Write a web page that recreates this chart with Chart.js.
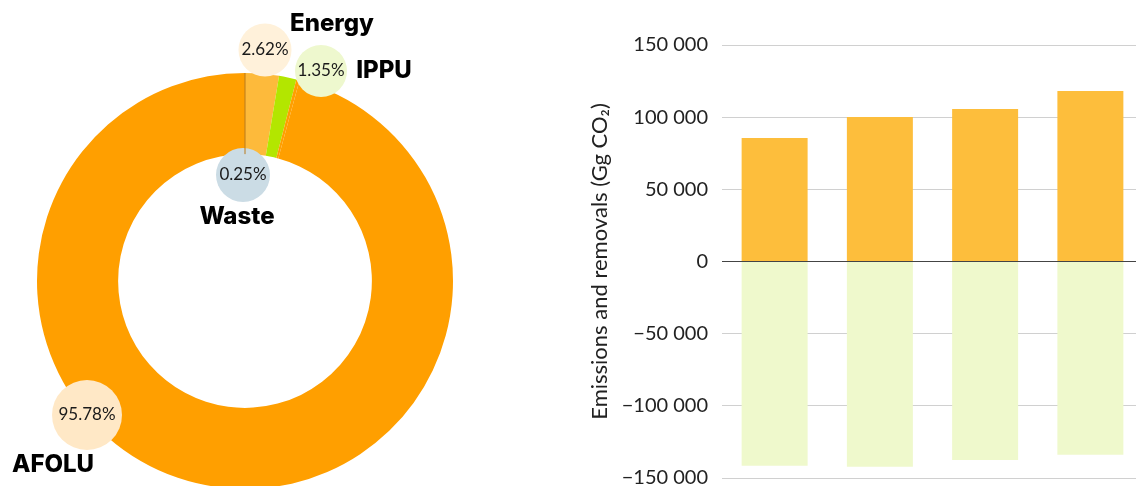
<!DOCTYPE html>
<html>
<head>
<meta charset="utf-8">
<script src="https://cdn.jsdelivr.net/npm/chart.js@4/dist/chart.umd.min.js"></script>
<style>
  html, body { margin: 0; padding: 0; background: #fff; overflow: hidden; width: 1136px; height: 486px; }
  #pieBox { position: absolute; left: 0; top: 0; width: 490px; height: 562px; }
  #barBox { position: absolute; left: 560px; top: 0; width: 590px; height: 520px; }
</style>
</head>
<body>
<div id="pieBox"><canvas id="pieChart"></canvas></div>
<div id="barBox"><canvas id="barChart"></canvas></div>
<script>
// doughnut: sector shares (%)
let sectors = ['Energy', 'IPPU', 'Waste', 'AFOLU'];
let shares = [2.62, 1.35, 0.25, 95.78];
let sliceColors = ['#fdba3b', '#b3e600', '#ff9f00', '#ff9f00'];
let bubbleColors = ['#fff1da', '#eef8ce', '#cbdce5', '#ffe8c6'];

// bar chart: emissions / removals (Gg CO2)
let periods = ['1', '2', '3', '4'];
let emissions = [85600, 100100, 105700, 118100];
let removals = [-141500, -142200, -137500, -133900];
let yTicks = [-150000, -100000, -50000, 0, 50000, 100000, 150000];

// where each bubble and name sit, relative to doughnut centre
let bubbleLayout = [
    { bx: 20, by: -231, r: 26.5, lx: 87, ly: -257 },
    { bx: 76, by: -210, r: 26, lx: 139, ly: -210 },
    { bx: -2, by: -106, r: 27, lx: -8, ly: -64 },
    { bx: -158, by: 134, r: 35, lx: -192, ly: 184 }
];

const bubbles = {
    id: 'bubbles',
    afterDatasetsDraw(chart) {
        let c = chart.ctx;
        let arc = chart.getDatasetMeta(0).data[0];
        let cx = arc.x, cy = arc.y;
        c.save();
        c.textAlign = 'center';
        c.textBaseline = 'middle';
        shares.forEach(function(v, i) {
            let p = bubbleLayout[i];
            c.beginPath();
            c.arc(cx + p.bx, cy + p.by, p.r, 0, Math.PI * 2);
            c.fillStyle = bubbleColors[i];
            c.fill();
            c.fillStyle = '#1a1a1a';
            c.font = '17px Lato';
            c.fillText(v.toFixed(2) + '%', cx + p.bx, cy + p.by);
            c.fillStyle = '#000';
            c.font = '800 24px Inter';
            c.fillText(sectors[i], cx + p.lx, cy + p.ly);
        });
        // seam at 12 o'clock
        c.beginPath();
        c.moveTo(cx, cy - arc.outerRadius);
        c.lineTo(cx, cy - arc.innerRadius);
        c.strokeStyle = '#b97a1c';
        c.lineWidth = 1;
        c.stroke();
        c.restore();
    }
};

new Chart(document.getElementById('pieChart'), {
    type: 'doughnut',
    data: {
        labels: sectors,
        datasets: [{
            data: shares,
            backgroundColor: sliceColors,
            borderWidth: 0
        }]
    },
    options: {
        responsive: true,
        maintainAspectRatio: false,
        animation: false,
        cutout: '61%',
        layout: { padding: { left: 37, right: 37, top: 73, bottom: 73 } },
        plugins: { legend: { display: false }, tooltip: { enabled: false } }
    },
    plugins: [bubbles]
});

function fmt(v)
{
    let s = Math.abs(v).toString().replace(/\B(?=(\d{3})+(?!\d))/g, ' ');
    return (v < 0 ? '\u2212' : '') + s;
}

new Chart(document.getElementById('barChart'), {
    type: 'bar',
    data: {
        labels: periods,
        datasets: [{
            label: 'Emissions',
            data: emissions,
            backgroundColor: '#fdbe3c',
            categoryPercentage: 1,
            barPercentage: 0.627
        },
        {
            label: 'Removals',
            data: removals,
            backgroundColor: '#eff9cc',
            categoryPercentage: 1,
            barPercentage: 0.627
        }]
    },
    options: {
        responsive: true,
        maintainAspectRatio: false,
        animation: false,
        layout: { padding: { left: 23, right: 7, top: 45, bottom: 42 } },
        plugins: { legend: { display: false }, tooltip: { enabled: false } },
        scales: {
            x: {
                stacked: true,
                display: false
            },
            y: {
                stacked: true,
                min: -150000,
                max: 150000,
                afterBuildTicks: function(scale) {
                    scale.ticks = yTicks.map(function(v) { return { value: v }; });
                },
                afterFit: function(scale) {
                    scale.width = 139;
                },
                border: { display: false },
                grid: {
                    drawTicks: false,
                    color: function(ctx) {
                        return ctx.tick && ctx.tick.value === 0 ? '#444' : '#d0d0d0';
                    },
                    lineWidth: 1
                },
                ticks: {
                    padding: 14,
                    color: '#222',
                    font: { family: 'Lato', size: 20 },
                    callback: function(v) { return fmt(v); }
                },
                title: {
                    display: true,
                    text: 'Emissions and removals (Gg CO\u2082)',
                    color: '#222',
                    font: { family: 'Lato', size: 22 },
                    padding: { top: 4, bottom: 0 }
                }
            }
        }
    }
});
</script>
</body>
</html>
